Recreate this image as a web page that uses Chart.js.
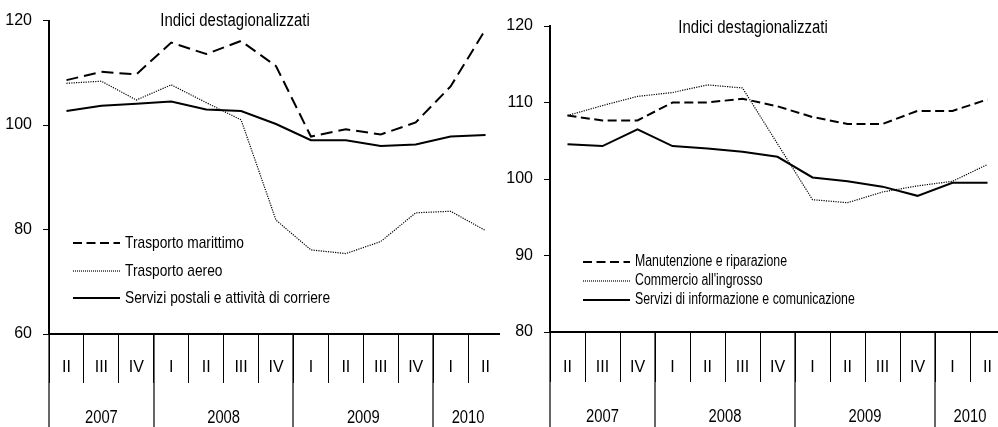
<!DOCTYPE html>
<html>
<head>
<meta charset="utf-8">
<script src="https://cdn.jsdelivr.net/npm/chart.js@4"></script>
<style>
  html, body { margin: 0; padding: 0; background: #fff; overflow: hidden; }
  body { width: 998px; height: 427px; position: relative; }
  #leftChart { position: absolute; left: 0; top: 0; }
  #rightChart { position: absolute; left: 500px; top: 0; background: #fff; }
</style>
</head>
<body>
<canvas id="leftChart" width="503" height="427"></canvas>
<canvas id="rightChart" width="505" height="427"></canvas>
<script>
var quarters = ['II', 'III', 'IV', 'I', 'II', 'III', 'IV', 'I', 'II', 'III', 'IV', 'I', 'II'];
var years = ['2007', '2008', '2009', '2010'];
var quartersPerYear = [3, 4, 4, 2];

// left panel: trasporti
var trasportoMarittimo = [108.6, 110.2, 109.7, 115.8, 113.6, 116.1, 111.3, 97.8, 99.2, 98.2, 100.5, 107.4, 118.3];
var trasportoAereo = [108.0, 108.4, 104.8, 107.7, 104.3, 101.0, 81.8, 76.1, 75.4, 77.7, 83.2, 83.5, 79.8];
var serviziPostali = [102.7, 103.7, 104.1, 104.5, 103.0, 102.7, 100.2, 97.1, 97.1, 96.0, 96.3, 97.8, 98.1];

// right panel
var manutenzione = [108.3, 107.65, 107.65, 110.0, 110.0, 110.5, 109.5, 108.1, 107.2, 107.2, 108.9, 108.9, 110.4];
var commercioIngrosso = [108.3, 109.6, 110.8, 111.3, 112.3, 111.9, 104.6, 97.3, 96.9, 98.3, 99.1, 99.7, 101.9];
var serviziInformazione = [104.55, 104.3, 106.5, 104.3, 104.0, 103.55, 102.9, 100.2, 99.7, 99.0, 97.8, 99.5, 99.5];

var titleText = 'Indici destagionalizzati';
var FONT = "'Liberation Sans', Arial, sans-serif";

// text squeezed horizontally, the original uses a narrow face
function narrowText(ctx, text, x, y, sx) {
    ctx.save();
    ctx.translate(x, y);
    ctx.scale(sx, 1);
    ctx.fillText(text, 0, 0);
    ctx.restore();
}

// draws title, legend, year row and long separators
var extrasPlugin = {
    id: 'extras',
    afterDraw: function (chart, args, opts) {
        var ctx = chart.ctx;
        var x = chart.scales.x;
        var area = chart.chartArea;
        var half = (x.getPixelForValue(1) - x.getPixelForValue(0)) / 2;

        ctx.save();
        ctx.fillStyle = '#000';
        ctx.strokeStyle = '#000';

        // title
        ctx.font = '18px ' + FONT;
        ctx.textAlign = 'center';
        ctx.textBaseline = 'middle';
        narrowText(ctx, titleText, opts.titleX, opts.titleY, 0.83);

        // year separators and labels
        ctx.lineWidth = 1.2;
        ctx.font = '18px ' + FONT;
        var idx = 0;
        years.forEach(function (yr, i) {
            var x0 = x.getPixelForValue(idx) - half;
            var x1 = x.getPixelForValue(idx + quartersPerYear[i] - 1) + half;
            ctx.beginPath();
            ctx.moveTo(Math.round(x0), area.bottom);
            ctx.lineTo(Math.round(x0), chart.height);
            ctx.stroke();
            narrowText(ctx, yr, (x0 + x1) / 2, opts.yearY, 0.82);
            idx += quartersPerYear[i];
        });

        // legend
        ctx.textAlign = 'left';
        ctx.font = opts.legendSize + 'px ' + FONT;
        chart.data.datasets.forEach(function (ds, i) {
            var ly = opts.legendY[i];
            ctx.beginPath();
            ctx.lineWidth = ds.borderWidth;
            ctx.setLineDash(opts.legendDash[i]);
            ctx.moveTo(opts.legendX, ly);
            ctx.lineTo(opts.legendX + opts.legendLen, ly);
            ctx.stroke();
            ctx.setLineDash([]);
            narrowText(ctx, ds.label, opts.legendX + opts.legendLen + 5, ly, opts.legendScale);
        });
        ctx.restore();
    }
};

function makeChart(canvasId, series, labels, dashes, yMin, yMax, step, yWidth, xHeight, padTop, tickLen, tickPad, extras) {
    var widths = [2, 1.2, 2];
    var datasets = series.map(function (s, i) {
        return {
            label: labels[i],
            data: s,
            borderColor: '#000',
            borderWidth: widths[i],
            borderDash: dashes[i],
            pointRadius: 0,
            tension: 0,
            fill: false
        };
    });

    return new Chart(document.getElementById(canvasId), {
        type: 'line',
        data: { labels: quarters, datasets: datasets },
        options: {
            responsive: false,
            animation: false,
            devicePixelRatio: 1,
            layout: { padding: { top: padTop, left: 0, right: 0, bottom: 0 } },
            plugins: {
                legend: { display: false },
                tooltip: { enabled: false },
                extras: extras
            },
            scales: {
                x: {
                    type: 'category',
                    offset: true,
                    afterFit: function (s) { s.height = xHeight; },
                    border: { display: true, color: '#000', width: 2 },
                    grid: {
                        offset: true,
                        drawOnChartArea: false,
                        drawTicks: true,
                        tickLength: tickLen,
                        color: '#000',
                        lineWidth: 1
                    },
                    ticks: {
                        autoSkip: false,
                        maxRotation: 0,
                        padding: tickPad,
                        color: '#000',
                        font: { family: FONT, size: 16 }
                    }
                },
                y: {
                    min: yMin,
                    max: yMax,
                    afterFit: function (s) { s.width = yWidth; },
                    border: { display: true, color: '#000', width: 2 },
                    grid: {
                        drawOnChartArea: false,
                        drawTicks: true,
                        tickLength: 6,
                        color: '#000',
                        lineWidth: 1
                    },
                    ticks: {
                        stepSize: step,
                        padding: 11,
                        color: '#000',
                        font: { family: FONT, size: 16 }
                    }
                }
            }
        },
        plugins: [extrasPlugin]
    });
}

makeChart('leftChart',
    [trasportoMarittimo, trasportoAereo, serviziPostali],
    ['Trasporto marittimo', 'Trasporto aereo', 'Servizi postali e attività di corriere'],
    [[12, 6], [1.2, 1.2], []],
    60, 120, 20, 49, 93, 20, 49, -25,
    { titleX: 235, titleY: 21, yearY: 418, legendX: 73, legendLen: 47,
      legendSize: 17, legendScale: 0.81,
      legendY: [243, 271, 298], legendDash: [[9, 4.5], [1, 1], []] });

makeChart('rightChart',
    [manutenzione, commercioIngrosso, serviziInformazione],
    ['Manutenzione e riparazione', 'Commercio all\'ingrosso', 'Servizi di informazione e comunicazione'],
    [[9, 4.5], [1.2, 1.2], []],
    80, 120, 10, 50, 95, 26, 50, -24,
    { titleX: 253, titleY: 28, yearY: 417, legendX: 83, legendLen: 47,
      legendSize: 16, legendScale: 0.77,
      legendY: [262, 281, 300], legendDash: [[9, 4.5], [1, 1], []] });
</script>
</body>
</html>
